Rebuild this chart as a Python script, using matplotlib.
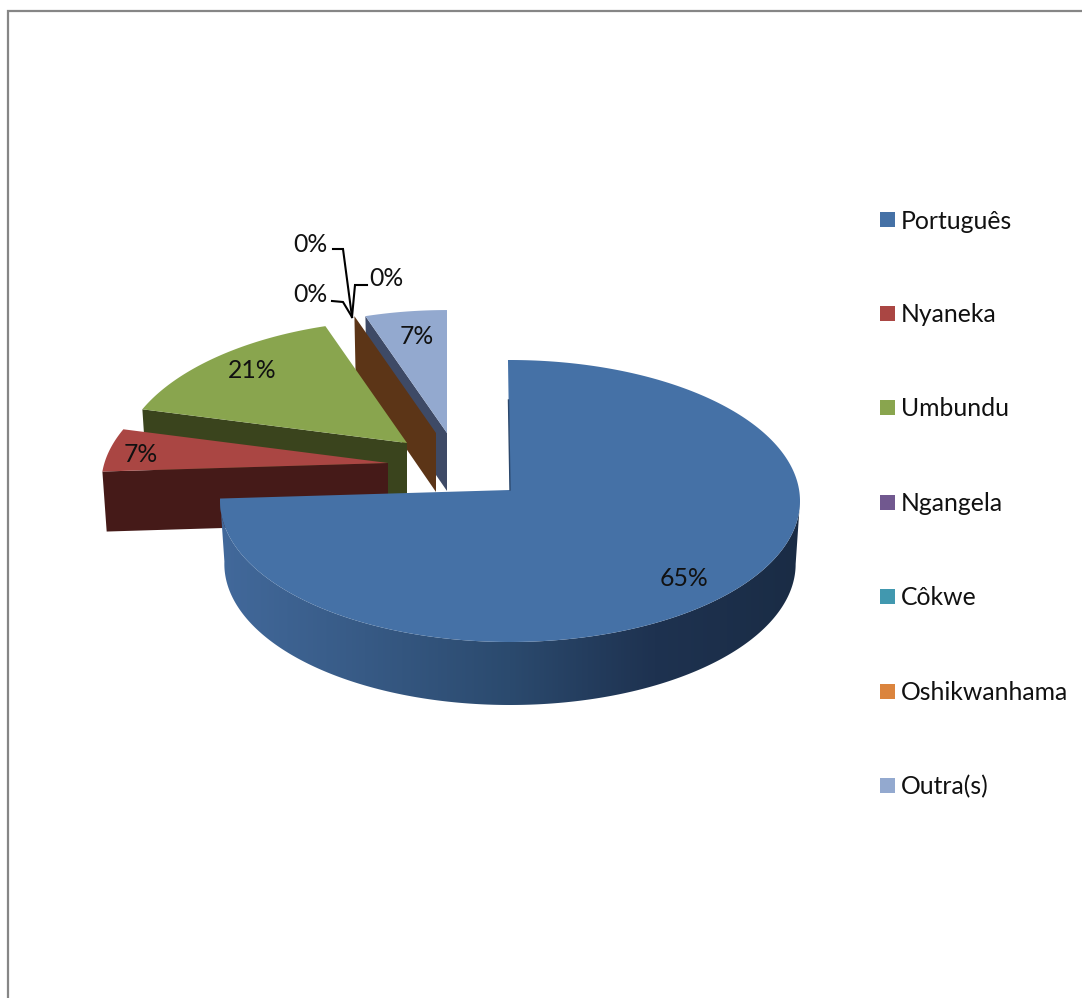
import numpy as np
import matplotlib
matplotlib.use('Agg')
import matplotlib.pyplot as plt
from matplotlib.colors import LinearSegmentedColormap
from matplotlib.patches import Polygon, Rectangle

languages = ['Português', 'Nyaneka', 'Umbundu', 'Ngangela', 'Côkwe', 'Oshikwanhama', 'Outra(s)']
shares = [65, 7, 21, 0, 0, 0, 7]

top_colors = ['#4571a6', '#aa4643', '#89a54e', '#71588f', '#4198af', '#db843d', '#93a9cf']
face_colors = ['#2b476b', '#451a18', '#3a441d', '#2e2339', '#1a3d47', '#5c3517', '#3e4a66']
wall_colors = ['#42699b', '#375a85', '#2b4a6e', '#1e3250', '#1a2c45']

# where each exploded slice has its point, and how much it shrinks towards the back
apex_x = [510, 388, 407, 436, 436, 436, 447]
apex_y = [490, 463, 443, 433, 433, 433, 433]
radius_x = [290, 286, 286, 286, 286, 286, 286]
shrink_x = [0, 0.07, 0.07, 0.07, 0.07, 0.07, 0.07]
shrink_y = [0, 0.05, 0.05, 0.05, 0.05, 0.05, 0.05]
depths = [63, 60, 60, 59, 59, 59, 58]

# the perspective opens the first slice up and squeezes the others
first_sweep = 271
ry, y_shift = 141, 11

# data label positions (pixels) and the leader lines of the three empty slices
label_x = [684, 141, 252, 310, 386, 310, 417]
label_y = [579, 454, 371, 294, 278, 244, 337]
leaders = [([333, 343, 352], [249, 249, 317]),
           ([332, 343, 352], [301, 302, 317]),
           ([367, 355, 352], [285, 285, 317])]

legend_y = [219.5, 313, 407.5, 502, 596, 691, 785]

plt.rcParams['font.family'] = ['Lato', 'DejaVu Sans']


def rim(theta, i):
    # theta in degrees, clockwise from 12 o'clock
    t = np.radians(theta)
    back = np.maximum(np.cos(t), 0)
    x = apex_x[i] + radius_x[i] * (1 - shrink_x[i] * back) * np.sin(t)
    y = apex_y[i] + y_shift - ry * (1 - shrink_y[i] * back) * np.cos(t)
    return x, y


def sink(x, y, i):
    # same point on the bottom of the slice, slightly narrower
    return apex_x[i] + 0.985 * (x - apex_x[i]), y + depths[i]


def draw_face(ax, theta, i):
    x, y = rim(theta, i)
    bx, by = sink(x, y, i)
    pts = [(apex_x[i], apex_y[i]), (x, y), (bx, by), (apex_x[i], apex_y[i] + depths[i])]
    ax.add_patch(Polygon(pts, closed=True, fc=face_colors[i], ec='none', zorder=0.5))


def draw_top(ax, start, end, i, z=0.5):
    th = np.linspace(start, end, 300)
    x, y = rim(th, i)
    pts = [(apex_x[i], apex_y[i])] + list(zip(x, y))
    ax.add_patch(Polygon(pts, closed=True, fc=top_colors[i], ec='none', zorder=z))


def draw_wall(ax, start, end, i):
    th = np.linspace(start, end, 300)
    x, y = rim(th, i)
    bx, by = sink(x, y, i)
    px = np.concatenate([x, bx[::-1]])
    py = np.concatenate([y, by[::-1]])
    clip = Polygon(np.column_stack([px, py]), closed=True, fc='none', ec='none')
    ax.add_patch(clip)
    cmap = LinearSegmentedColormap.from_list('wall', wall_colors)
    grad = np.linspace(0, 1, 256).reshape(1, -1)
    im = ax.imshow(grad, cmap=cmap, aspect='auto',
                   extent=[px.min(), px.max(), py.max(), py.min()], zorder=1)
    im.set_clip_path(clip)


fig = plt.figure(figsize=(10.82, 9.98), dpi=100)
ax = fig.add_axes([0, 0, 1, 1])
ax.axis('off')

# slice boundaries
deg_per_pct = [first_sweep / shares[0]] + [(360 - first_sweep) / sum(shares[1:])] * (len(shares) - 1)
sweeps = np.array(shares) * np.array(deg_per_pct)
ends = np.cumsum(sweeps)
starts = ends - sweeps

# frame of the chart area, open on the right and at the bottom
ax.plot([8, 8, 1082], [998, 11, 11], color='#868686', lw=1.6, solid_joinstyle='miter')

# back to front: Outra(s), the empty slices, Umbundu, Nyaneka, then Português
for i in [6, 5, 2, 1]:
    draw_face(ax, starts[i], i)
    if sweeps[i] > 0:
        draw_top(ax, starts[i], ends[i], i)

draw_wall(ax, 90, ends[0], 0)
draw_top(ax, starts[0] - 0.4, ends[0], 0, z=2)

# thin dark edge where the big slice is cut at 12 o'clock
edge_x, edge_y = rim(starts[0] - 0.4, 0)
ax.plot([edge_x + 0.5, apex_x[0]], [edge_y + 40, apex_y[0]], color=face_colors[0], lw=1.0, zorder=2.5)

for xs, ys in leaders:
    ax.plot(xs, ys, color='black', lw=1.5, zorder=3, solid_joinstyle='miter')

for i in range(len(shares)):
    ax.text(label_x[i], label_y[i], '{}%'.format(shares[i]), fontsize=17.8, color='#111111',
            ha='center', va='center', zorder=4)

# legend
for i, name in enumerate(languages):
    ax.add_patch(Rectangle((880, legend_y[i] - 7.5), 15, 15, fc=top_colors[i], ec='none', zorder=3))
    ax.text(901, legend_y[i] + 1.5, name, fontsize=17.8, color='#111111', ha='left', va='center', zorder=4)

ax.set_xlim(0, 1082)
ax.set_ylim(998, 0)
fig.savefig('out.png', dpi=100, facecolor='white')
